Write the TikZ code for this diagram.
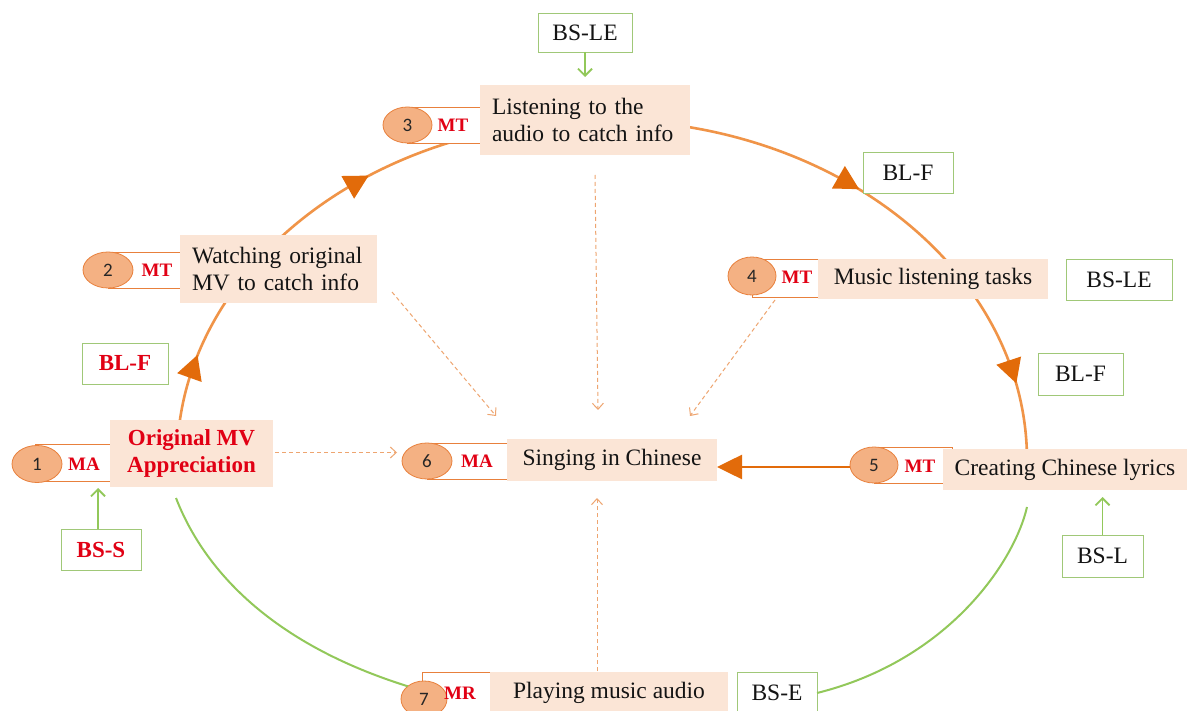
\documentclass[tikz,border=0pt]{standalone}
\usepackage{fontspec}
\setmainfont{Liberation Serif}
\newfontfamily\numfont{Carlito}
\usetikzlibrary{arrows.meta,shapes.geometric,calc}
\definecolor{arcor}{RGB}{240,148,72}
\definecolor{tipor}{RGB}{226,107,10}
\definecolor{ellfill}{RGB}{244,177,131}
\definecolor{ellline}{RGB}{232,128,60}
\definecolor{peach}{RGB}{251,229,214}
\definecolor{gline}{RGB}{146,200,90}
\definecolor{gbox}{RGB}{160,200,120}
\definecolor{lblred}{RGB}{225,0,20}
\definecolor{dashor}{RGB}{238,165,112}
\definecolor{txtc}{RGB}{20,20,20}
\begin{document}
\begin{tikzpicture}[x=1pt,y=-1pt,
  every node/.style={inner sep=0pt,outer sep=0pt},
  txt/.style={font=\fontsize{23.5}{27}\selectfont,text=txtc},
  peachbox/.style={rectangle,fill=peach,draw=none,txt},
  numell/.style={ellipse,fill=ellfill,draw=ellline,line width=0.8pt,
     font=\numfont\fontsize{19}{19}\selectfont,text=black!85},
  whiterect/.style={rectangle,fill=white,draw=ellline,line width=0.8pt},
  lab/.style={text=lblred,font=\bfseries\fontsize{19}{19}\selectfont},
  gbx/.style={rectangle,draw=gbox,line width=0.8pt,fill=white,txt},
  redtxt/.style={text=lblred,font=\bfseries\fontsize{23}{27}\selectfont},
  arcline/.style={draw=arcor,line width=2.6pt},
  garc/.style={draw=gline,line width=2pt},
  garrow/.style={draw=gline,line width=1.8pt,-{Straight Barb[length=7pt,width=14pt]}},
  dasharrow/.style={draw=dashor,line width=1pt,dash pattern=on 4pt off 3pt,
     -{Straight Barb[length=6pt,width=11pt]}},
  tri/.pic={\fill[tipor,rotate=#1] (12,0) -- (-12,13) -- (-12,-13) -- cycle;}
]
\useasboundingbox (0,0) rectangle (1187,711);
\clip (0,0) rectangle (1187,711);
\fill[white] (0,0) rectangle (1187,711);

% ---- main loop arcs ----
\coordinate (C) at (602,460);
\draw[arcline] (C) ++(180:425pt and 340pt) arc[start angle=180,end angle=0,x radius=425pt,y radius=340pt];
\pic at ($(C)+(164:425pt and 340pt)$) {tri=70.3};
\pic at ($(C)+(125:425pt and 340pt)$) {tri=29.3};
\pic at ($(C)+(54.5:425pt and 340pt)$) {tri=-29.9};
\pic at ($(C)+(15:425pt and 340pt)$) {tri=-71.5};

\coordinate (gl1) at (176,498);
\coordinate (gr1) at (1027,507);

% ---- dashed arrows ----
\coordinate (d2s) at (392,292);
\coordinate (d2e) at (496,416);
\coordinate (d3s) at (595,175);
\coordinate (d3e) at (598,410);
\coordinate (d4s) at (775,300);
\coordinate (d4e) at (690,416);
\coordinate (d7s) at (597,671);
\coordinate (d7e) at (597,498);
\draw[dasharrow] (d2s) -- (d2e);
\draw[dasharrow] (d3s) -- (d3e);
\draw[dasharrow] (d4s) -- (d4e);
\draw[dasharrow] (d7s) -- (d7e);

% ---- step 1 ----
\node[whiterect,minimum width=75pt,minimum height=37pt] (r1) at (72.5,462.5) {};
\node[numell,minimum width=50pt,minimum height=37pt] (e1) at (37,464) {1};
\node[peachbox,minimum width=163pt,minimum height=67pt,align=center,redtxt] (b1) at (191.5,453.5) {Original MV\\Appreciation};
\node[lab] (m1) at (84,464) {MA};

% ---- step 2 ----
\node[whiterect,minimum width=72pt,minimum height=36pt] (r2) at (144,270) {};
\node[numell,minimum width=50pt,minimum height=36pt] (e2) at (108,270) {2};
\node[peachbox,minimum width=197pt,minimum height=68pt,text width=173pt,align=left,inner xsep=12pt] (b2) at (278.5,269) {Watching original\\MV to catch info};
\node[lab] (m2) at (157,270) {MT};

% ---- step 3 ----
\node[whiterect,minimum width=73pt,minimum height=36pt] (r3) at (443.5,125) {};
\node[numell,minimum width=49pt,minimum height=36pt] (e3) at (407.5,125) {3};
\node[peachbox,minimum width=210pt,minimum height=70pt,text width=186pt,align=left,inner xsep=12pt] (b3) at (585,120) {Listening to the\\audio to catch info};
\node[lab] (m3) at (453,125) {MT};

% ---- step 4 ----
\node[whiterect,minimum width=66pt,minimum height=38pt] (r4) at (785,278) {};
\node[numell,minimum width=48pt,minimum height=38pt] (e4) at (752,276) {4};
\node[peachbox,minimum width=230pt,minimum height=40pt,align=center] (b4) at (933,279) {Music listening tasks};
\node[lab] (m4) at (797,277) {MT};

% ---- step 5 ----
\node[whiterect,minimum width=78pt,minimum height=36pt] (r5) at (913,465) {};
\node[numell,minimum width=48pt,minimum height=36pt] (e5) at (874,465) {5};
\node[peachbox,minimum width=244pt,minimum height=41pt,align=center] (b5) at (1065,469.5) {Creating Chinese lyrics};
\node[lab] (m5) at (920,466) {MT};

% ---- step 6 ----
\node[whiterect,minimum width=80pt,minimum height=36pt] (r6) at (467,461) {};
\node[numell,minimum width=50pt,minimum height=36pt] (e6) at (427,461) {6};
\node[peachbox,minimum width=210pt,minimum height=42pt,align=center] (b6) at (612,460) {Singing in Chinese};
\node[lab] (m6) at (477,461) {MA};

% ---- step 7 ----
\node[whiterect,minimum width=68pt,minimum height=43pt] (r7) at (456,693.5) {};
\node[numell,minimum width=46pt,minimum height=36pt] (e7) at (424,699) {7};
\node[peachbox,minimum width=238pt,minimum height=42pt,align=center] (b7) at (609,693) {Playing music audio};
\node[lab] (m7) at (460,693) {MR};

% ---- green-bordered labels ----
\node[gbx,minimum width=94pt,minimum height=39pt] (bsle1) at (585,32.5) {BS-LE};
\node[gbx,minimum width=90pt,minimum height=41pt] (blf1) at (908,172.5) {BL-F};
\node[gbx,minimum width=106pt,minimum height=41pt] (bsle2) at (1119,279.5) {BS-LE};
\node[gbx,minimum width=85pt,minimum height=42pt] (blf2) at (1080.5,374) {BL-F};
\node[gbx,minimum width=81pt,minimum height=42pt] (bsl) at (1102.5,556) {BS-L};
\node[gbx,minimum width=80pt,minimum height=42pt] (bse) at (777,693) {BS-E};
\node[gbx,redtxt,minimum width=86pt,minimum height=41pt] (blf0) at (125,363.5) {BL-F};
\node[gbx,redtxt,minimum width=80pt,minimum height=41pt] (bss) at (101,549.5) {BS-S};

% ---- green arcs ----
\draw[garc] (gl1) .. controls (200,560) and (260,640) .. (e7.north west);
\draw[garc] (gr1) .. controls (1015,560) and (950,660) .. (bse.east);

% ---- green arrows ----
\draw[garrow,shorten >=8pt] (bsle1.south) -- (b3.north);
\draw[garrow,shorten >=7pt] ([xshift=-3pt]bss.north) -- ([xshift=-3pt]bss.north |- r1.south);
\draw[garrow,shorten >=7pt] (bsl.north) -- (bsl.north |- b5.south);

% ---- dashed arrow 1 -> 6 ----
\draw[dasharrow,shorten <=2pt,shorten >=5pt] ([yshift=1pt]b1.east) -- ([yshift=1pt]b1.east -| e6.west);

% ---- solid arrow 5 -> 6 ----
\draw[draw=tipor,line width=2.6pt,-{Triangle[length=25pt,width=24pt]}] ([yshift=-2pt]e5.west) -- ([yshift=-2pt]e5.west -| b6.east);
\end{tikzpicture}
\end{document}
